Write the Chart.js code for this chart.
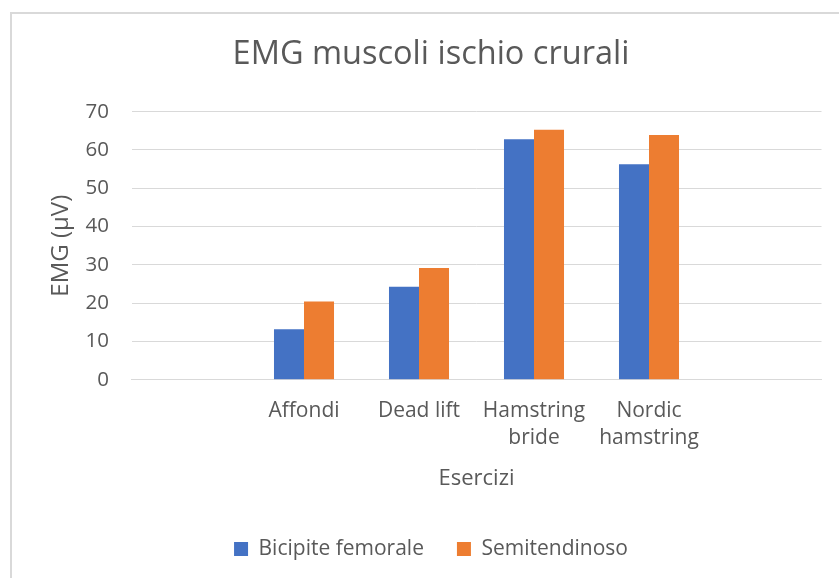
<!DOCTYPE html>
<html>
<head>
<meta charset="utf-8">
<script src="https://cdn.jsdelivr.net/npm/chart.js@4.4.1/dist/chart.umd.min.js"></script>
<style>
  html, body { margin: 0; padding: 0; background: #ffffff; overflow: hidden; }
  #wrap { position: relative; width: 839px; height: 578px; }
  #frame { position: absolute; left: 10px; top: 12px; width: 900px; height: 700px; border-left: 2px solid #d9d9d9; border-top: 2px solid #d9d9d9; box-sizing: border-box; }
  canvas { position: absolute; left: 0; top: 0; }
</style>
</head>
<body>
<div id="wrap">
  <div id="frame"></div>
  <canvas id="c" width="839" height="578"></canvas>
</div>
<script>
const chartTitle = 'EMG muscoli ischio crurali';
const categories = ['', 'Affondi', 'Dead lift', ['Hamstring', 'bride'], ['Nordic', 'hamstring'], ''];
const seriesNames = ['Bicipite femorale', 'Semitendinoso'];
const bicipiteFemorale = [null, 13.2, 24.3, 62.8, 56.3, null];
const semitendinoso = [null, 20.4, 29.2, 65.3, 63.9, null];
const yTickMin = 0;
const yTickMax = 70;
const yTickStep = 10;
const xAxisTitle = 'Esercizi';
const yAxisTitle = 'EMG (\u03bcV)';

const textColor = '#595959';
const gridColor = '#d9d9d9';
const fontFamily = '"Open Sans", "Liberation Sans", sans-serif';

new Chart(document.getElementById('c'), {
  type: 'bar',
  data: {
    labels: categories,
    datasets: [
      { label: seriesNames[0], data: bicipiteFemorale, backgroundColor: '#4472C4', borderWidth: 0 },
      { label: seriesNames[1], data: semitendinoso, backgroundColor: '#ED7D31', borderWidth: 0 }
    ]
  },
  options: {
    responsive: false,
    animation: false,
    devicePixelRatio: 1,
    layout: { padding: { left: 40.5, right: 17.5, top: 0, bottom: 8.6 } },
    datasets: { bar: { categoryPercentage: 0.522, barPercentage: 1.0 } },
    plugins: {
      tooltip: { enabled: false },
      title: {
        display: true,
        text: chartTitle,
        color: textColor,
        font: { family: fontFamily, size: 32.5, weight: 'normal', lineHeight: 1.2 },
        padding: { top: 35.6, bottom: 37.1 }
      },
      legend: {
        position: 'bottom',
        labels: {
          color: textColor,
          font: { family: fontFamily, size: 21 },
          boxWidth: 14,
          boxHeight: 14,
          padding: 33
        }
      }
    },
    scales: {
      x: {
        grid: { display: false, drawTicks: false },
        border: { display: true, color: gridColor, width: 1 },
        ticks: {
          color: textColor,
          font: { family: fontFamily, size: 21, lineHeight: 1.27 },
          padding: 17.85,
          maxRotation: 0,
          minRotation: 0,
          autoSkip: false
        },
        title: {
          display: true,
          text: xAxisTitle,
          color: textColor,
          font: { family: fontFamily, size: 22, lineHeight: 1.2 },
          padding: { top: 0, bottom: 13.4 }
        },
        afterFit: (s) => { s.height = 125.7; }
      },
      y: {
        min: yTickMin,
        max: yTickMax,
        grid: { color: gridColor, lineWidth: 1, drawTicks: false },
        border: { display: false },
        ticks: {
          stepSize: yTickStep,
          color: textColor,
          font: { family: fontFamily, size: 20.5 },
          padding: 22.5
        },
        title: {
          display: true,
          text: yAxisTitle,
          color: textColor,
          font: { family: fontFamily, size: 24, lineHeight: 1.2 },
          padding: { top: 6.2, bottom: 0 }
        },
        afterFit: (s) => { s.width = 91; }
      }
    }
  }
});
</script>
</body>
</html>
